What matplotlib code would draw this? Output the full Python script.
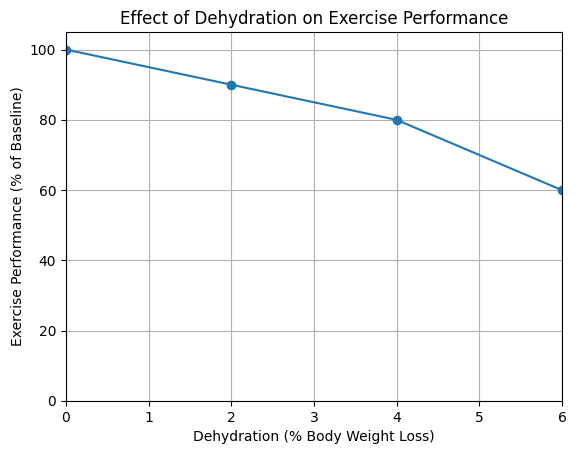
import matplotlib
matplotlib.use("Agg")
import matplotlib.pyplot as plt

dehydration = [0, 2, 4, 6]
performance = [100, 90, 80, 60]

fig = plt.figure(figsize=(5.76, 4.55), dpi=100)
ax = fig.add_axes([66/576, 1-401/455, (562-66)/576, (401-32)/455])
ax.plot(dehydration, performance, marker='o', color='#1f77b4')
ax.set_xlim(0, 6)
ax.set_ylim(0, 105)
ax.grid(True)
ax.set_title("Effect of Dehydration on Exercise Performance")
ax.set_xlabel("Dehydration (% Body Weight Loss)")
ax.set_ylabel("Exercise Performance (% of Baseline)")
fig.savefig("out.png", dpi=100)
